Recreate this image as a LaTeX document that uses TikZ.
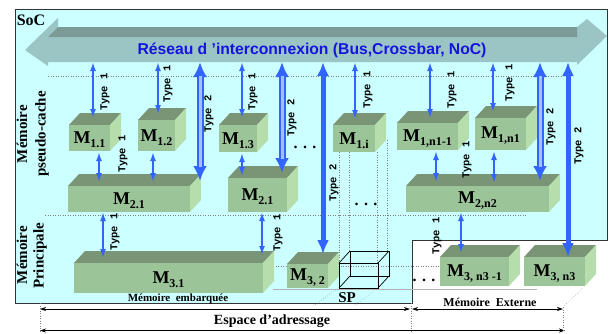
\documentclass[tikz,border=0pt]{standalone}
\usepackage{fontspec}
\setmainfont{Liberation Serif}
\newfontfamily\sansb{Liberation Sans}
\newfontfamily\monof{Liberation Mono}
\usetikzlibrary{arrows.meta}
\definecolor{soc}{RGB}{204,255,255}
\definecolor{busdark}{RGB}{125,155,150}
\definecolor{buslight}{RGB}{155,196,196}
\definecolor{bfront}{RGB}{156,196,153}
\definecolor{btop}{RGB}{122,148,118}
\definecolor{bside}{RGB}{182,222,172}
\definecolor{arr}{RGB}{50,100,255}
\definecolor{arrl}{RGB}{160,195,255}
\definecolor{ttl}{RGB}{20,20,225}
\newcommand\ML[1]{\fontsize{18}{18}\selectfont\bfseries M\raisebox{-4pt}{\fontsize{12}{12}\selectfont #1}}
\newcommand\cub[6]{%
  \fill[btop] (#2,#3) -- ++(11,-12) -- ({#4+11},{#3-12}) -- (#4,#3) -- cycle;
  \fill[bside] (#4,#3) -- ++(11,-12) -- ({#4+11},{#5-12}) -- (#4,#5) -- cycle;
  \node[bface, minimum width={#4-#2}, minimum height={#5-#3}] (#1) at ({(#2+#4)/2},{(#3+#5)/2}) {};
  \node[inner sep=0] (#1l) at ([yshift=-2pt]#1.center) {\ML{#6}};
}
\begin{document}
\begin{tikzpicture}[x=1pt,y=-1pt,
  bface/.style={fill=bfront, inner sep=0, draw=none},
  t1/.style={color=arr, line width=2pt, {Latex[length=9pt,width=6pt]}-{Latex[length=9pt,width=6pt]}},
  t2d/.style={color=arr, line width=7pt, {Latex[length=15pt,width=14pt]}-{Latex[length=15pt,width=14pt]}},
  t2in/.style={color=arrl, line width=3pt, shorten <=14pt, shorten >=14pt},
  t2s/.style={color=arr, line width=5pt, {Latex[length=14pt,width=12pt]}-{Latex[length=14pt,width=12pt]}},
  tl/.style={rotate=90, font=\monof\bfseries\fontsize{10.5}{10.5}\selectfont, inner sep=0},
  side/.style={rotate=90, font=\bfseries\fontsize{15}{15}\selectfont, inner sep=0},
  guide/.style={gray, line width=0.5pt, dotted},
  dimarr/.style={black, line width=0.7pt, {Stealth[length=6pt,width=4pt]}-{Stealth[length=6pt,width=4pt]}},
  dotsn/.style={font=\bfseries\fontsize{16}{16}\selectfont, inner sep=0}
]
\useasboundingbox (0,0) rectangle (609,333);
% SoC region
\filldraw[fill=soc, draw=black!80, line width=0.8pt] (15,9) -- (607,9) -- (607,240) -- (412,240) -- (412,303) -- (15,303) -- cycle;
\node[font=\bfseries\fontsize{16}{16}\selectfont, inner sep=0] (soclab) at (31,20) {SoC};
% bus arrow
\fill[buslight] (25,50) -- (58,18) -- (58,27) -- (577,27) -- (587,19) -- (607,36) -- (577,65) -- (577,62) -- (48,62) -- (48,66) -- cycle;
\fill[busdark] (48,37) -- (58,27) -- (577,27) -- (577,37) -- cycle;
\node[font=\sansb\bfseries\fontsize{15.7}{15.7}\selectfont, text=ttl, inner sep=0] (title) at (312,50) {Réseau d ’interconnexion (Bus,Crossbar, NoC)};
% guide lines
\draw[guide] (48,76) -- (563,76);
\draw[guide] (45,215) -- (527,215);
\draw[guide] (273,266) -- (440,266);
\draw[gray!60, line width=0.5pt] (273,289) -- (537,289);
\draw[guide] (339,152) -- (339,263);
\draw[guide] (349,152) -- (349,251);
\draw[guide] (377,152) -- (377,263);
\draw[guide] (387,140) -- (387,251);
\draw[guide] (313,306) -- (339,288);
\draw[guide] (354,306) -- (378,288);
\draw[guide] (583,288) -- (563,307);
% side labels
\node[side] (mp1) at (22,134) {Mémoire};
\node[side] (mp2) at (42,134) {pseudo-cache};
\node[side] (mm1) at (22,255) {Mémoire};
\node[side] (mm2) at (40,256) {Principale};
% boxes
\cub{m11}{69}{125}{110}{151}{1.1}
\cub{m12}{138}{120}{175}{151}{1.2}
\cub{m13}{219}{125}{257}{152}{1.3}
\cub{m1i}{333}{125}{375}{152}{1.i}
\cub{m1a}{397}{123}{458}{150}{1,n1-1}
\cub{m1b}{475}{118}{526}{150}{1,n1}
\cub{m21}{68}{186}{190}{212}{2.1}
\cub{m22}{228}{178}{287}{212}{2.1}
\cub{m2n}{406}{186}{549}{212}{2,n2}
\cub{m31}{74}{263}{263}{293}{3.1}
\cub{m32}{287}{264}{328}{288}{3, 2}
\cub{m3a}{440}{257}{509}{286}{3, n3 -1}
\cub{m3b}{524}{257}{585}{286}{3, n3}
% SP wireframe cube
\draw[black, line width=0.7pt] (339,263) rectangle (378,288);
\draw[black, line width=0.7pt] (350,251) rectangle (389,276);
\draw[black, line width=0.7pt] (339,263) -- (350,251) (378,263) -- (389,251) (378,288) -- (389,276) (339,288) -- (350,276);
\node[font=\bfseries\fontsize{15}{15}\selectfont, inner sep=0] (sp) at (347,298) {SP};
% dots
\node[dotsn] (d1) at (305,147) {. . .};
\node[dotsn] (d2) at (366,204) {. . .};
\node[dotsn] (d3) at (424,280) {. . .};
% Type 1 arrows bus -> level 1
\draw[t1] (93,62) -- (93,118);
\draw[t1] (158,62) -- (158,114);
\draw[t1] (242,62) -- (242,118);
\draw[t1] (355,62) -- (355,119);
\draw[t1] (430,62) -- (430,118);
\draw[t1] (493,62) -- (493,112);
% level 1 -> level 2
\draw[t1] (99,152) -- (99,182);
\draw[t1] (153,152) -- (153,182);
\draw[t1] (242,153) -- (242,176);
\draw[t1] (436,151) -- (436,182);
\draw[t1] (494,151) -- (494,183);
% level 2 -> level 3
\draw[t1] (103,212) -- (103,258);
\draw[t1] (262,212) -- (262,255);
\draw[t1] (461,212) -- (461,253);
% Type 2 double arrows
\foreach \xx/\yy in {200/181, 282/173, 540/181}{
  \draw[t2d] (\xx,62) -- (\xx,\yy);
  \draw[t2in] (\xx,62) -- (\xx,\yy);
}
% Type 2 thick arrows
\draw[t2s] (323,62) -- (323,254);
\draw[t2s] (568,62) -- (568,257);
% Type labels
\node[tl] (l1) at (105,92) {Type 1};
\node[tl] (l2) at (168,84) {Type 1};
\node[tl] (l3) at (253,92) {Type 1};
\node[tl] (l4) at (368,90) {Type 1};
\node[tl] (l5) at (452,90) {Type 1};
\node[tl] (l6) at (510,83) {Type 1};
\node[tl] (l7) at (123,154) {Type 1};
\node[tl] (l8) at (467,160) {Type 1};
\node[tl] (l9) at (115,232) {Type 1};
\node[tl] (l10) at (278,233) {Type 1};
\node[tl] (l11) at (437,236) {Type 1};
\node[tl] (k1) at (209,114) {Type 2};
\node[tl] (k2) at (292,118) {Type 2};
\node[tl] (k3) at (334,183) {Type 2};
\node[tl] (k4) at (551,127) {Type 2};
\node[tl] (k5) at (579,146) {Type 2};
% bottom labels and address arrows
\node[font=\bfseries\fontsize{11}{11}\selectfont, inner sep=0] (emb) at (178,299) {Mémoire\ \ embarquée};
\node[font=\bfseries\fontsize{12}{12}\selectfont, inner sep=0] (ext) at (490,302) {Mémoire\ \ Externe};
\node[font=\bfseries\fontsize{14}{14}\selectfont, inner sep=0] (esp) at (272,321) {Espace d’adressage};
\coordinate (a0) at (40,309);
\coordinate (a1) at (410,309);
\coordinate (a2) at (412,309);
\coordinate (a3) at (563,309);
\coordinate (b0) at (40,330.5);
\coordinate (b1) at (565,330.5);
\draw[dimarr] (a0) -- (a1);
\draw[dimarr] (a2) -- (a3);
\draw[dimarr] (b0) -- (b1);
\draw[guide] (40,303) -- (40,331);
\draw[guide] (411,303) -- (411,331);
\draw[guide] (563,307) -- (563,331);
\end{tikzpicture}
\end{document}
